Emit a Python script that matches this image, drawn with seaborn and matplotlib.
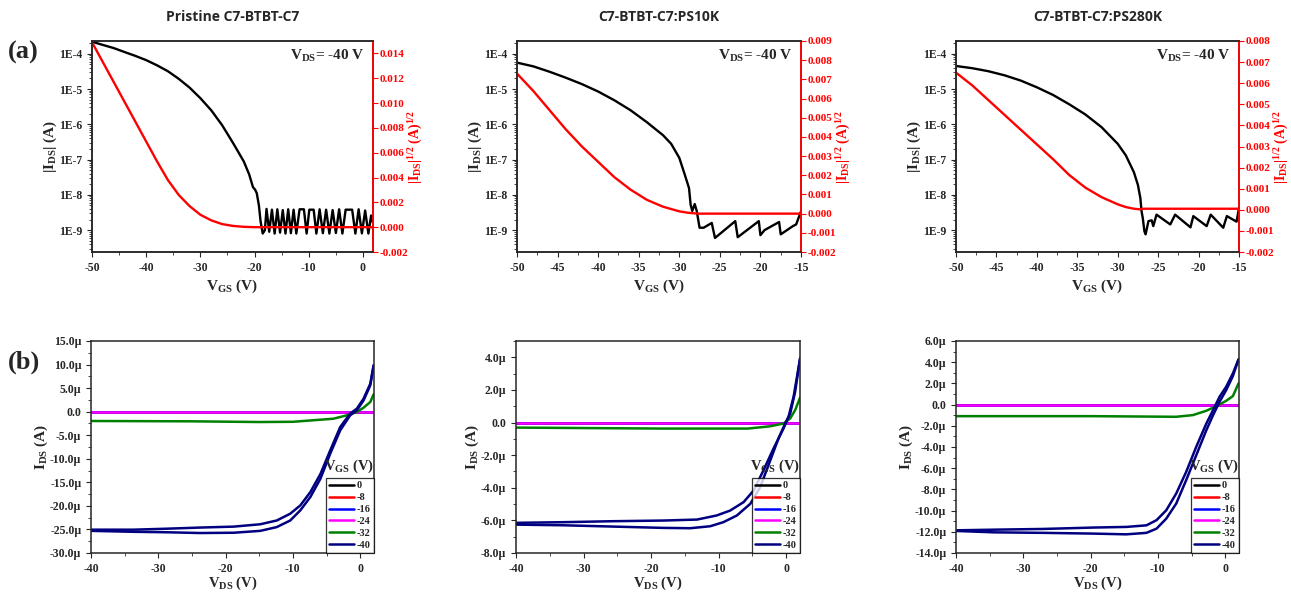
import numpy as np
import pandas as pd
import matplotlib
matplotlib.use("Agg")
import matplotlib.pyplot as plt
import seaborn as sns
from matplotlib.ticker import FuncFormatter, MultipleLocator, AutoMinorLocator, LogLocator, NullFormatter

# ---------------- transfer curves (top row), VDS = -40 V ----------------
# Pristine
pri_vgs = [-50, -48, -46, -44, -42, -40, -38, -36, -34, -32, -30, -28, -26, -24, -22, -21, -20.3,
           -19.9, -19.6, -19.2, -18.9, -18.5, -18.1,
           -17.8, -17.3, -16.8, -16.3, -15.8, -15.3, -14.8, -14.3, -13.8, -13.3, -12.8, -12.3,
           -11.7, -10.9, -10.4, -9.9, -9.1, -8.6, -8.0, -7.4, -6.8, -6.2, -5.6, -5.0, -4.4,
           -3.8, -3.2, -2.0, -1.4, -0.8, -0.2, 0.4, 1.0, 1.5, 1.85]
pri_ids = [2.2e-4, 1.78e-4, 1.45e-4, 1.12e-4, 8.7e-5, 6.6e-5, 4.7e-5, 3.2e-5, 1.95e-5, 1.1e-5,
           5.5e-6, 2.5e-6, 9.5e-7, 3.0e-7, 8.9e-8, 3.8e-8, 1.66e-8,
           1.4e-8, 1.12e-8, 5.0e-9, 1.8e-9, 8.0e-10, 1.0e-9,
           4.0e-9, 9.0e-10, 3.8e-9, 8.0e-10, 3.9e-9, 8.5e-10, 3.7e-9, 8.0e-10, 3.9e-9, 8.2e-10,
           3.8e-9, 8.0e-10, 3.9e-9, 3.9e-9, 8.0e-10, 3.8e-9, 3.8e-9, 8.0e-10, 3.9e-9, 8.2e-10,
           3.8e-9, 8.0e-10, 3.7e-9, 8.3e-10, 3.9e-9, 8.0e-10, 3.8e-9, 3.8e-9, 8.0e-10, 3.9e-9,
           8.1e-10, 3.6e-9, 8.0e-10, 2.6e-9, 1.6e-9]
pri_sq_vgs = [-50, -48, -46, -44, -42, -40, -38, -36, -34, -32, -30, -28, -26, -24, -22, -20, 2]
pri_sq = [0.0149, 0.0133, 0.0117, 0.0101, 0.0085, 0.0069, 0.0053, 0.0038, 0.0026, 0.0017,
          0.0010, 0.00055, 0.00025, 0.0001, 0.00003, 0.0, 0.0]

# PS10K
k10_vgs = [-50, -48, -46, -44, -42, -40, -38, -36, -34, -32, -31, -30, -29.3, -28.8, -28.6, -28.4,
           -28.1, -27.85, -27.5, -27.0, -26.0, -25.6, -23.1, -22.8, -20.2, -20.0, -19.5, -17.7,
           -17.5, -16.0, -15.6, -15.0]
k10_ids = [5.6e-5, 4.4e-5, 3.1e-5, 2.1e-5, 1.38e-5, 8.5e-6, 4.8e-6, 2.5e-6, 1.15e-6, 4.9e-7,
           2.8e-7, 1.12e-7, 3.6e-8, 1.55e-8, 5.2e-9, 3.5e-9, 5.5e-9, 3.5e-9, 1.17e-9, 1.17e-9,
           1.6e-9, 6.0e-10, 1.8e-9, 6.3e-10, 1.8e-9, 7.2e-10, 1.0e-9, 1.7e-9, 7.6e-10, 1.3e-9,
           1.45e-9, 3.4e-9]
k10_sq_vgs = [-50, -48, -46, -44, -42, -40, -38, -36, -34, -32, -30, -29, -28, -27.5, -15]
k10_sq = [0.0073, 0.0064, 0.0054, 0.0044, 0.0035, 0.0027, 0.0019, 0.00125, 0.00072, 0.00036,
          0.00012, 0.00005, 0.00001, 0.0, 0.0]

# PS280K
k280_vgs = [-50, -48, -46, -44, -42, -40, -38, -36, -34, -32, -30, -29, -28, -27.5, -27.2, -27.05,
            -26.9, -26.7, -26.55, -26.2, -25.8, -25.6, -25.2, -23.5, -22.9, -21.0, -20.65, -19.0,
            -18.5, -16.95, -16.5, -15.3, -15.0]
k280_ids = [4.5e-5, 3.9e-5, 3.2e-5, 2.45e-5, 1.74e-5, 1.12e-5, 6.8e-6, 3.7e-6, 1.9e-6, 8.3e-7,
            2.8e-7, 1.32e-7, 4.4e-8, 1.9e-8, 8.1e-9, 3.4e-9, 2.2e-9, 9.3e-10, 7.6e-10, 1.8e-9,
            1.9e-9, 1.3e-9, 2.75e-9, 1.45e-9, 2.75e-9, 1.2e-9, 2.5e-9, 1.3e-9, 2.75e-9, 1.17e-9,
            2.5e-9, 1.74e-9, 4.3e-9]
k280_sq_vgs = [-50, -48, -46, -44, -42, -40, -38, -36, -34, -32, -30, -29, -28, -27.2, -27.0, -15]
k280_sq = [0.0065, 0.0059, 0.0052, 0.0045, 0.0038, 0.0031, 0.0024, 0.00165, 0.00105, 0.0006,
           0.00026, 0.00013, 0.00005, 0.00002, 0.00005, 0.00005]

# ---------------- output curves (bottom row), IDS in uA ----------------
vgs_labels = ["0", "-8", "-16", "-24", "-32", "-40"]
vgs_colors = ["black", "#ff0000", "#0000ff", "#ff00ff", "#008000", "#000080"]
flat_vds = [-40, 2]
flat_ids = [0.0, 0.0]

pri_vds_fwd = [-40, -33.7, -28.7, -23.8, -18.8, -14.85, -12.4, -10.4, -8.9, -7.4, -5.9, -4.45, -2.97, -1.5, -0.5, 0.5, 1.5, 2.0]
pri_ids_fwd = [-25.05, -25.05, -24.84, -24.6, -24.4, -23.9, -23.1, -21.66, -19.9, -17.05, -13.2, -8.2, -3.26, -0.42, 0.64, 2.76, 5.94, 9.84]
pri_vds_rev = [-40, -33.7, -28.7, -23.8, -18.8, -14.85, -12.4, -10.4, -8.9, -7.4, -5.9, -4.45, -2.97, -1.5, -0.5, 0.5, 1.5, 2.0]
pri_ids_rev = [-25.3, -25.5, -25.6, -25.76, -25.7, -25.3, -24.5, -23.1, -20.95, -18.1, -14.2, -8.9, -3.96, -0.78, 0.28, 2.4, 5.6, 9.84]
pri_vds_32 = [-40, -25, -15, -10, -4, -2, -0.5, 0.5, 1.5, 2.0]
pri_ids_32 = [-1.98, -2.05, -2.2, -2.15, -1.5, -0.78, -0.07, 0.85, 2.05, 3.7]

k10_vds_fwd = [-40, -33, -25.6, -18.2, -13.2, -10.3, -8.3, -6.3, -4.8, -3.36, -1.88, -0.4, 0.35, 1.1, 2.07]
k10_ids_fwd = [-6.15, -6.11, -6.05, -6.01, -5.95, -5.7, -5.4, -4.88, -4.16, -2.93, -1.6, -0.37, 0.35, 1.58, 3.94]
k10_vds_rev = [-40, -33, -25.6, -18.2, -14.2, -11.25, -9.3, -7.3, -5.3, -3.85, -2.35, -1.14, -0.15, 0.6, 1.33, 2.07]
k10_ids_rev = [-6.26, -6.3, -6.38, -6.46, -6.48, -6.36, -6.11, -5.7, -4.98, -3.96, -2.32, -0.98, -0.06, 0.55, 1.89, 3.94]
k10_vds_32 = [-40, -18.2, -5.7, -2.35, -0.4, 0.6, 1.33, 2.07]
k10_ids_32 = [-0.31, -0.37, -0.37, -0.23, -0.06, 0.25, 0.76, 1.54]

k280_vds_fwd = [-40, -34.4, -27, -19.6, -14.7, -11.7, -10.2, -8.76, -7.28, -5.8, -4.3, -2.8, -1.8, -0.84, 0.15, 1.14, 1.98]
k280_ids_fwd = [-11.86, -11.8, -11.73, -11.6, -11.54, -11.39, -10.9, -9.97, -8.39, -6.35, -3.98, -1.78, -0.52, 0.74, 1.69, 2.94, 4.26]
k280_vds_rev = [-40, -34.4, -27, -19.6, -14.7, -11.7, -10.2, -8.76, -7.28, -5.8, -4.3, -2.8, -1.8, -0.84, 0.15, 1.14, 1.98]
k280_ids_rev = [-11.92, -12.05, -12.1, -12.17, -12.24, -12.1, -11.7, -10.76, -9.34, -7.13, -4.77, -2.41, -0.99, 0.27, 1.37, 2.69, 4.26]
k280_vds_32 = [-40, -20, -7.3, -4.8, -2.8, -1.3, 0.15, 1.14, 1.98]
k280_ids_32 = [-1.09, -1.09, -1.15, -0.99, -0.58, -0.14, 0.36, 0.8, 2.0]

titles = ["Pristine C7-BTBT-C7", "C7-BTBT-C7:PS10K", "C7-BTBT-C7:PS280K"]

# ---------------- style ----------------
sns.set_style("ticks")
plt.rcParams['font.family'] = ['Liberation Serif', 'DejaVu Serif']
plt.rcParams['font.weight'] = 'bold'
plt.rcParams['axes.labelweight'] = 'bold'
plt.rcParams['axes.unicode_minus'] = False
plt.rcParams['mathtext.fontset'] = 'custom'
plt.rcParams['mathtext.rm'] = 'Liberation Serif:bold'
plt.rcParams['mathtext.it'] = 'Liberation Serif:bold'
plt.rcParams['mathtext.bf'] = 'Liberation Serif:bold'
plt.rcParams['axes.linewidth'] = 1.1
plt.rcParams['xtick.major.size'] = 3.5
plt.rcParams['ytick.major.size'] = 3.5
plt.rcParams['xtick.minor.size'] = 2
plt.rcParams['ytick.minor.size'] = 2

W, H = 1291, 593
fig = plt.figure(figsize=(W / 100, H / 100), dpi=100)


def frac(left, right, top, bottom):
    return [left / W, 1 - bottom / H, (right - left) / W, (bottom - top) / H]


top_boxes = [frac(92, 373, 41, 252), frac(517, 801, 41, 252), frac(956, 1239, 41, 252)]
bot_boxes = [frac(91, 374, 341, 553), frac(516, 800, 341, 553), frac(956, 1239, 341, 553)]

transfer = [
    (pri_vgs, pri_ids, pri_sq_vgs, pri_sq, (-50, 1.85), 10, (-0.002, 0.015), 0.002),
    (k10_vgs, k10_ids, k10_sq_vgs, k10_sq, (-50, -15), 5, (-0.002, 0.009), 0.001),
    (k280_vgs, k280_ids, k280_sq_vgs, k280_sq, (-50, -15), 5, (-0.002, 0.008), 0.001),
]

for i, (vg, ids, sqv, sq, xl, xstep, yr, ystep) in enumerate(transfer):
    ax = fig.add_axes(top_boxes[i])
    ax2 = ax.twinx()
    sns.lineplot(x=vg, y=ids, ax=ax, color="black", linewidth=1.7, sort=False)
    sns.lineplot(x=sqv, y=sq, ax=ax2, color="#ff0000", linewidth=1.7, sort=False)
    ax.set_yscale("log")
    ax.set_ylim(2.4e-10, 2.3e-4)
    ax.set_xlim(*xl)
    ax.yaxis.set_major_locator(LogLocator(base=10, numticks=20))
    ax.yaxis.set_minor_locator(LogLocator(base=10, subs=np.arange(2, 10), numticks=20))
    ax.yaxis.set_minor_formatter(NullFormatter())
    ax.yaxis.set_major_formatter(FuncFormatter(lambda v, p: "1E%d" % round(np.log10(v))))
    ax.xaxis.set_major_locator(MultipleLocator(xstep))
    ax.xaxis.set_minor_locator(AutoMinorLocator(2))
    ax.tick_params(labelsize=8.5)
    ax2.set_ylim(*yr)
    ax2.yaxis.set_major_locator(MultipleLocator(ystep))
    ax2.yaxis.set_major_formatter(FuncFormatter(lambda v, p: "%.3f" % v))
    ax2.tick_params(axis="y", colors="#ff0000", labelsize=8, pad=1.5)
    ax2.spines["right"].set_color("#ff0000")
    ax2.spines["right"].set_linewidth(1.3)
    ax.set_xlabel(r"V$_{\mathrm{GS}}$ (V)", fontsize=11, labelpad=3)
    ax.set_ylabel(r"|I$_{\mathrm{DS}}$| (A)", fontsize=11, labelpad=0)
    ax2.set_ylabel(r"|I$_{\mathrm{DS}}$|$^{\mathrm{1/2}}$ (A)$^{\mathrm{1/2}}$", fontsize=10,
                   color="#ff0000", labelpad=-1)
    ax.text(0.97, 0.93, r"V$_{\mathrm{DS}}$= -40 V", transform=ax.transAxes, ha="right",
            va="center", fontsize=11)
    ax.text(0.5, 1 + 24 / 211, titles[i], transform=ax.transAxes, ha="center", va="center",
            fontsize=10, fontfamily="Open Sans", fontweight="bold")

outputs = [
    (pri_vds_fwd, pri_ids_fwd, pri_vds_rev, pri_ids_rev, pri_vds_32, pri_ids_32, (-30, 15), 5),
    (k10_vds_fwd, k10_ids_fwd, k10_vds_rev, k10_ids_rev, k10_vds_32, k10_ids_32, (-8, 5), 2),
    (k280_vds_fwd, k280_ids_fwd, k280_vds_rev, k280_ids_rev, k280_vds_32, k280_ids_32, (-14, 6), 2),
]


def ufmt(v, p):
    if abs(v) < 1e-9:
        return "0.0"
    return "%.1f\u00b5" % v


for i, (xf, yf, xr, yr_, x32, y32, ylim, ystep) in enumerate(outputs):
    ax = fig.add_axes(bot_boxes[i])
    for lab, col in zip(vgs_labels[:3], vgs_colors[:3]):
        sns.lineplot(x=flat_vds, y=flat_ids, ax=ax, color=col, linewidth=1.8, label=lab)
    sns.lineplot(x=flat_vds, y=flat_ids, ax=ax, color=vgs_colors[3], linewidth=1.8, label=vgs_labels[3])
    sns.lineplot(x=x32, y=y32, ax=ax, color=vgs_colors[4], linewidth=1.8, label=vgs_labels[4])
    sns.lineplot(x=xf, y=yf, ax=ax, color=vgs_colors[5], linewidth=1.8, label=vgs_labels[5])
    sns.lineplot(x=xr, y=yr_, ax=ax, color=vgs_colors[5], linewidth=1.8)
    ax.set_xlim(-40, 2.05)
    ax.set_ylim(*ylim)
    ax.xaxis.set_major_locator(MultipleLocator(10))
    ax.xaxis.set_minor_locator(AutoMinorLocator(2))
    ax.yaxis.set_major_locator(MultipleLocator(ystep))
    ax.yaxis.set_minor_locator(AutoMinorLocator(2))
    ax.yaxis.set_major_formatter(FuncFormatter(ufmt))
    ax.tick_params(labelsize=8.5)
    ax.tick_params(which="both", right=False, top=False)
    ax.set_xlabel(r"V$_{\mathrm{DS}}$ (V)", fontsize=10.5, labelpad=0)
    ax.set_ylabel(r"I$_{\mathrm{DS}}$ (A)", fontsize=11, labelpad=0)
    leg = ax.legend(loc="lower right", fontsize=7.5, frameon=True, fancybox=False,
                    borderaxespad=0, handlelength=2.4, handletextpad=0.3, labelspacing=0.25,
                    borderpad=0.3)
    leg.get_frame().set_edgecolor("black")
    leg.get_frame().set_linewidth(0.9)
    ax.text(1.0, 0.41, r"V$_{\mathrm{GS}}$ (V)", transform=ax.transAxes, ha="right",
            va="center", fontsize=10.5)

fig.text(0.006, 1 - 52 / H, "(a)", fontsize=19, fontweight="bold", va="center")
fig.text(0.006, 1 - 362 / H, "(b)", fontsize=19, fontweight="bold", va="center")

fig.savefig("out.png", dpi=100)
plt.close(fig)
